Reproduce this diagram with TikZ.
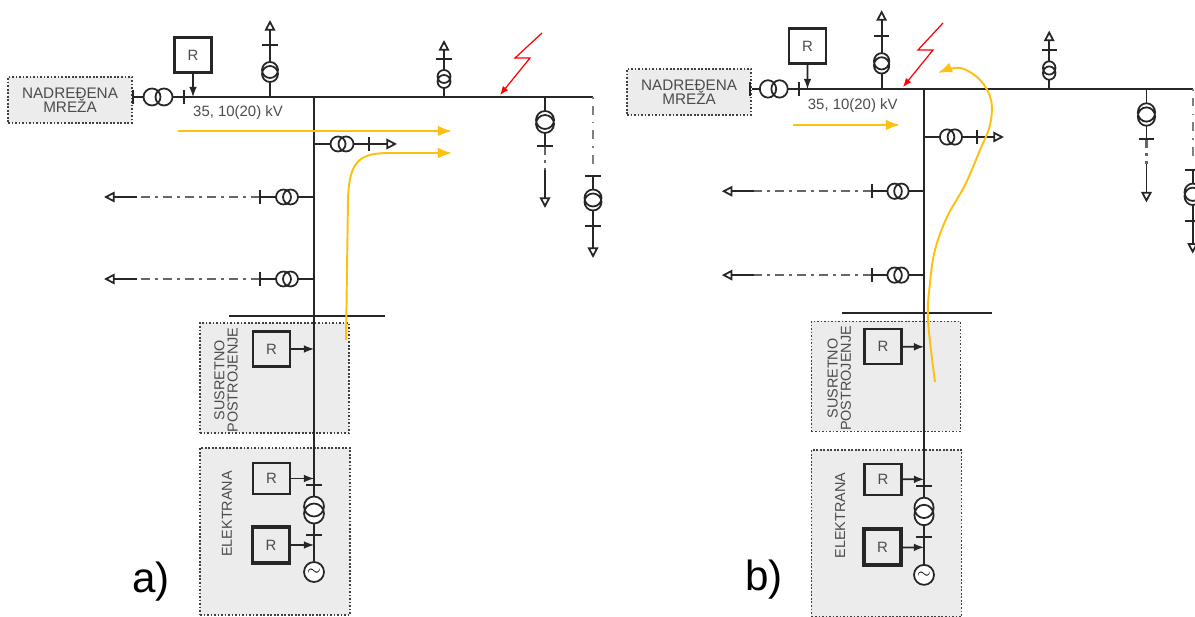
\documentclass[tikz,border=0pt]{standalone}
\usepackage{fontspec}
\setmainfont{Liberation Sans}
\usepackage{tikz}
\usetikzlibrary{arrows,arrows.meta,calc}
\definecolor{flowyellow}{HTML}{FCC010}
\tikzset{>=latex,
  net/.style={line width=1pt, black!85},
  feeder/.style={line width=1.4pt, black!60, dash pattern=on 5pt off 3pt on 1.5pt off 3pt},
  feederdot/.style={line width=1pt, black!50, dash pattern=on 1pt off 4pt on 5pt off 4pt},
  load/.style={net, -{Triangle[open,length=6pt,width=6pt]}},
  zone/.style={draw=black!75, densely dotted, line width=1pt, fill=gray!15, inner sep=0pt,
    text=black!70, align=center, font=\fontsize{8.7}{8}\selectfont},
  lbl/.style={text=black!70, align=center, font=\fontsize{8.2}{7.5}\selectfont},
  rbox/.style={draw=black!85, line width=1.3pt, minimum width=0.74cm, minimum height=0.7cm,
    inner sep=0pt, text=black!70, font=\fontsize{8.5}{9}\selectfont},
  gen/.style={draw=black!85, line width=1pt, fill=white, circle, minimum size=0.4cm, inner sep=0pt},
  flow/.style={draw=flowyellow, line width=1.1pt, -{Latex[length=8pt,width=6pt]}},
  bolt/.style={red, line width=0.7pt, -{Latex[length=5pt,width=4pt]}}
}
% transformer: position, first centre, second centre, radius
\newcommand{\trafo}[4]{%
  \begin{scope}[shift={#1}]
    \fill[white] #2 circle [radius=#4] #3 circle [radius=#4];
    \draw[net] #2 circle [radius=#4] #3 circle [radius=#4];
  \end{scope}}
\newcommand{\tickh}[1]{\draw[net] #1 ++(0,-7) -- ++(0,14);}
\newcommand{\tickv}[1]{\draw[net] #1 ++(-8,0) -- ++(16,0);}
% one network panel
\newcommand{\panel}{%
  \node[zone, minimum width=2.98cm, minimum height=2.2cm] (sus) at (274.5,378) {};
  \node[zone, minimum width=3cm, minimum height=3.34cm] (ele) at (275,531.5) {};
  \node[lbl, rotate=90] (sustxt) at (226,380) {SUSRETNO\\POSTROJENJE};
  \node[lbl, rotate=90] (eletxt) at (227,514) {ELEKTRANA};
  \node[zone, minimum width=2.48cm, minimum height=0.92cm] (nadr) at (70,100) {NADREĐENA\\MREŽA};
  \coordinate (bus) at (314,97);
  \coordinate (busend) at (593,97);
  \coordinate (mainbot) at (314,561);
  \draw[net, line width=1.2pt] (nadr.east |- bus) -- (busend);
  \draw[net] (bus) -- (mainbot);
  \tickh{(133,97)}
  \tickh{(184,97)}
  \trafo{(158,97)}{(-6,0)}{(6,0)}{0.17cm}
  \node[rbox, fill=white] (rtop) at (193,55) {R};
  \draw[net,->] (rtop) -- (rtop |- bus);
  \node[lbl, anchor=west, font=\fontsize{8.5}{9}\selectfont] (kv) at (187,113) {35, 10(20) kV};
  % branches on the busbar
  \draw[load] (270,97) -- (270,20);
  \trafo{(270,72)}{(0,-2)}{(0,2)}{0.16cm}
  \tickv{(270,45)}
  \draw[load] (444,97) -- (444,40);
  \trafo{(444,79)}{(0,-2.5)}{(0,2.5)}{0.13cm}
  \tickv{(444,59)}
  \draw[net] (545,97) -- (545,146);
  \draw[feeder] (545,146) -- (545,170);
  \draw[load] (545,170) -- (545,208);
  \trafo{(545,122)}{(0,-2)}{(0,2)}{0.18cm}
  \tickv{(545,146)}
  \draw[feederdot] (593,97) -- (593,168);
  \draw[load] (593,176) -- (593,258);
  \trafo{(593,200)}{(0,-2)}{(0,2)}{0.17cm}
  \tickv{(593,176)}
  \tickv{(593,226)}
  % branches on the line
  \draw[load] (314,144) -- (397,144);
  \trafo{(342,144)}{(-4,0)}{(4,0)}{0.15cm}
  \tickh{(369,144)}
  \foreach \y in {197,279} {
    \draw[net] (314,\y) -- (260,\y);
    \draw[feeder] (260,\y) -- (137,\y);
    \draw[load] (137,\y) -- (104,\y);
    \trafo{(287,\y)}{(-3.5,0)}{(3.5,0)}{0.15cm}
    \tickh{(260,\y)}
  }
  \draw[net, line width=1.2pt] (229,316) -- (385,316);
  % plant
  \node[rbox] (rsus) at (271.5,349) {R};
  \draw[net,->] (rsus) -- (rsus -| bus);
  \node[rbox, minimum height=0.62cm] (rel1) at (271.5,478.5) {R};
  \draw[net,->] (rel1) -- (rel1 -| bus);
  \node[rbox, line width=2pt, minimum height=0.72cm] (rel2) at (271,545) {R};
  \draw[net,->] (rel2) -- (rel2 -| bus);
  \tickv{(314,485)}
  \tickv{(314,535)}
  \trafo{(314,510)}{(0,-3.5)}{(0,3.5)}{0.2cm}
  \node[gen] (gen) at (314,572) {$\sim$};
}

\begin{document}
\begin{tikzpicture}[x=0.02cm,y=-0.02cm]
  \useasboundingbox (0,0) rectangle (1195,617);
  \begin{scope}[name prefix=a-]
    \panel
  \end{scope}
  \begin{scope}[name prefix=b-, shift={(924,-10.3)}, xscale=0.963, yscale=1.023, shift={(-314,0)}]
    \panel
  \end{scope}
  % a)
  \draw[flow] (178,131) -- (452,131);
  \draw[flow] (346,340) -- (348,200) .. controls (349,160) and (360,153) .. (390,153) -- (452,153);
  \draw[bolt] (542,33) -- (515,58) -- (530,58) -- (500,95);
  \node[font=\fontsize{24}{24}\selectfont] (la) at (151,582) {a)};
  % b)
  \draw[flow] (793,125) -- (900,125);
  \draw[flow] plot[smooth, tension=0.6] coordinates {(935,382) (928,320) (930,283) (935,250)
    (947,217) (965,185) (980,150) (990,125) (991,100) (980,80) (960,68) (938,73)};
  \draw[bolt] (943,23) -- (918,50) -- (933,50) -- (903,87);
  \node[font=\fontsize{24}{24}\selectfont] (lb) at (764,580) {b)};
\end{tikzpicture}
\end{document}
